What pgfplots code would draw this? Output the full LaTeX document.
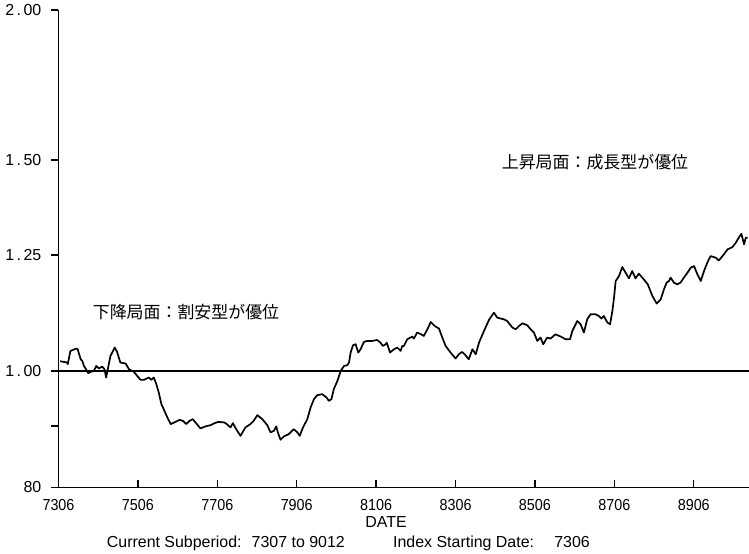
\documentclass[border=0pt]{standalone}
\usepackage{fontspec}
\setmainfont{Liberation Sans}
\newfontfamily\ticksans{Liberation Sans}[FakeStretch=0.9]
\newfontfamily\jp{Noto Sans CJK JP}
\usepackage{pgfplots}
\pgfplotsset{compat=1.18}

% Relative performance index (growth vs. value), monthly, base 7306 = 1.00
% x = months since 7306
\pgfplotstableread{
m v
0.5 1.0193
2.6 1.0168
2.8 1.0135
3.6 1.0397
5.4 1.0444
5.8 1.0430
6.7 1.0233
7.2 1.0199
7.7 1.0102
9.0 0.9962
9.7 0.9987
10.7 1.0006
11.4 1.0102
12.2 1.0052
13.2 1.0090
13.9 1.0038
14.4 0.9880
15.0 1.0071
15.7 1.0297
17.0 1.0465
17.7 1.0377
18.7 1.0168
20.3 1.0149
21.3 1.0038
22.8 0.9987
23.8 0.9910
24.8 0.9835
25.8 0.9835
27.3 0.9880
28.0 0.9835
28.8 0.9880
29.5 0.9767
30.3 0.9600
31.1 0.9387
31.8 0.9298
32.9 0.9151
33.9 0.9035
35.4 0.9074
36.6 0.9109
37.6 0.9092
38.6 0.9035
39.6 0.9092
40.6 0.9121
41.4 0.9064
42.9 0.8960
44.4 0.8995
46.0 0.9017
47.0 0.9047
48.3 0.9074
50.0 0.9064
50.5 0.9052
52.0 0.8978
52.7 0.9052
53.7 0.8948
55.0 0.8834
56.5 0.8978
58.0 0.9035
59.0 0.9092
60.1 0.9192
61.6 0.9121
63.1 0.9017
64.1 0.8892
65.1 0.8919
65.8 0.8995
66.3 0.8892
67.1 0.8767
68.1 0.8824
69.6 0.8863
71.1 0.8948
72.2 0.8892
72.9 0.8834
73.9 0.8978
75.2 0.9121
76.2 0.9328
77.2 0.9478
78.2 0.9551
79.7 0.9569
81.0 0.9509
81.7 0.9447
82.5 0.9478
83.2 0.9661
84.3 0.9816
85.3 1.0006
86.3 1.0102
87.3 1.0116
87.8 1.0168
88.3 1.0365
89.0 1.0511
89.8 1.0531
90.6 1.0365
91.3 1.0430
92.3 1.0577
93.3 1.0598
94.8 1.0598
96.3 1.0618
97.3 1.0565
98.0 1.0497
98.9 1.0531
99.2 1.0565
100.2 1.0365
101.4 1.0430
102.4 1.0465
103.4 1.0397
103.9 1.0497
104.4 1.0497
105.4 1.0632
106.9 1.0687
107.4 1.0646
108.4 1.0770
109.6 1.0734
110.4 1.0700
111.5 1.0838
112.5 1.0990
113.7 1.0907
115.0 1.0852
116.0 1.0667
117.0 1.0497
118.5 1.0365
120.0 1.0246
121.0 1.0331
122.0 1.0377
123.0 1.0311
124.0 1.0233
125.1 1.0430
126.1 1.0331
127.1 1.0565
128.6 1.0803
130.1 1.1033
131.6 1.1190
132.6 1.1083
134.6 1.1047
135.6 1.1011
137.2 1.0873
138.2 1.0838
139.2 1.0907
140.2 1.0963
141.7 1.0921
142.7 1.0838
143.7 1.0770
144.7 1.0598
145.7 1.0667
146.5 1.0531
147.7 1.0667
148.7 1.0646
150.2 1.0734
151.8 1.0687
153.3 1.0632
154.6 1.0632
155.3 1.0803
156.8 1.1011
157.8 1.0942
158.8 1.0770
159.8 1.1047
160.8 1.1154
162.3 1.1154
163.3 1.1118
164.1 1.1062
164.8 1.1118
165.9 1.0978
166.7 1.0942
167.4 1.1225
167.9 1.1516
168.4 1.1889
169.4 1.2003
170.4 1.2212
171.4 1.2081
172.4 1.1950
173.4 1.2119
174.4 1.1950
175.4 1.2058
176.9 1.1927
178.1 1.1814
179.5 1.1552
180.8 1.1385
182.0 1.1479
183.0 1.1701
183.8 1.1852
184.5 1.1889
185.0 1.1966
186.0 1.1852
187.0 1.1814
188.0 1.1852
189.0 1.1966
190.1 1.2081
191.1 1.2198
192.1 1.2235
193.1 1.2042
194.1 1.1889
195.1 1.2119
196.1 1.2315
197.1 1.2472
198.6 1.2434
199.6 1.2369
201.1 1.2512
202.2 1.2633
203.7 1.2689
204.7 1.2796
205.7 1.2934
206.4 1.3019
207.2 1.2755
207.7 1.2919
208.3 1.2919
}\indexdata

\newcommand{\yl}[2]{#1\kern2.5bp.\kern2.5bp#2}

\begin{document}
\begin{tikzpicture}[x=1bp,y=1bp]
\path[use as bounding box] (-58.5,-66.5) rectangle (690.5,487.5);
\begin{axis}[
  at={(0bp,0bp)}, anchor=south west,
  scale only axis, width=690.5bp, height=477.5bp,
  xmin=0, xmax=208.7, ymin=0.8, ymax=2.0, ymode=log,
  axis x line=bottom, axis y line=left,
  axis line style={-, line width=1.5bp},
  tick align=outside, major tick length=7bp,
  every tick/.style={black, line width=1.4bp},
  x tick style={yshift=7bp},
  xtick={0,24,48,72,96,120,144,168,192},
  xticklabels={7306,7506,7706,7906,8106,8306,8506,8706,8906},
  ytick={0.8,0.9,1.0,1.25,1.5,2.0},
  yticklabels={80,{},\yl{1}{00},\yl{1}{25},\yl{1}{50},\yl{2}{00}},
  x tick label style={font=\ticksans\fontsize{16}{16}\selectfont, anchor=base, inner sep=0pt, yshift=-16bp},
  y tick label style={font=\fontsize{16}{16}\selectfont, anchor=east, inner sep=0pt, xshift=-10bp},
  minor tick num=0,
]
\addplot[black, line width=1.5bp] coordinates {(0,1) (208.7,1)};
\addplot[black, line width=1.7bp, line join=round] table[x=m, y=v] {\indexdata};
\end{axis}
\node[font=\jp\fontsize{17}{17}\selectfont] at (536.5,325) {上昇局面：成長型が優位};
\node[font=\jp\fontsize{17}{17}\selectfont] at (127.5,175.5) {下降局面：割安型が優位};
\node[font=\fontsize{16}{16}\selectfont, anchor=base, inner sep=0pt] at (327.5,-40.3) {DATE};
\begin{scope}[every node/.style={font=\fontsize{16}{16}\selectfont, inner sep=0pt}]
\node[anchor=base west] at (48.2,-60.5) {Current Subperiod:};
\node[anchor=base east] at (286.5,-60.5) {7307 to 9012};
\node[anchor=base west] at (334.5,-60.5) {Index Starting Date:};
\node[anchor=base east] at (531.5,-60.5) {7306};
\end{scope}
\end{tikzpicture}
\end{document}
